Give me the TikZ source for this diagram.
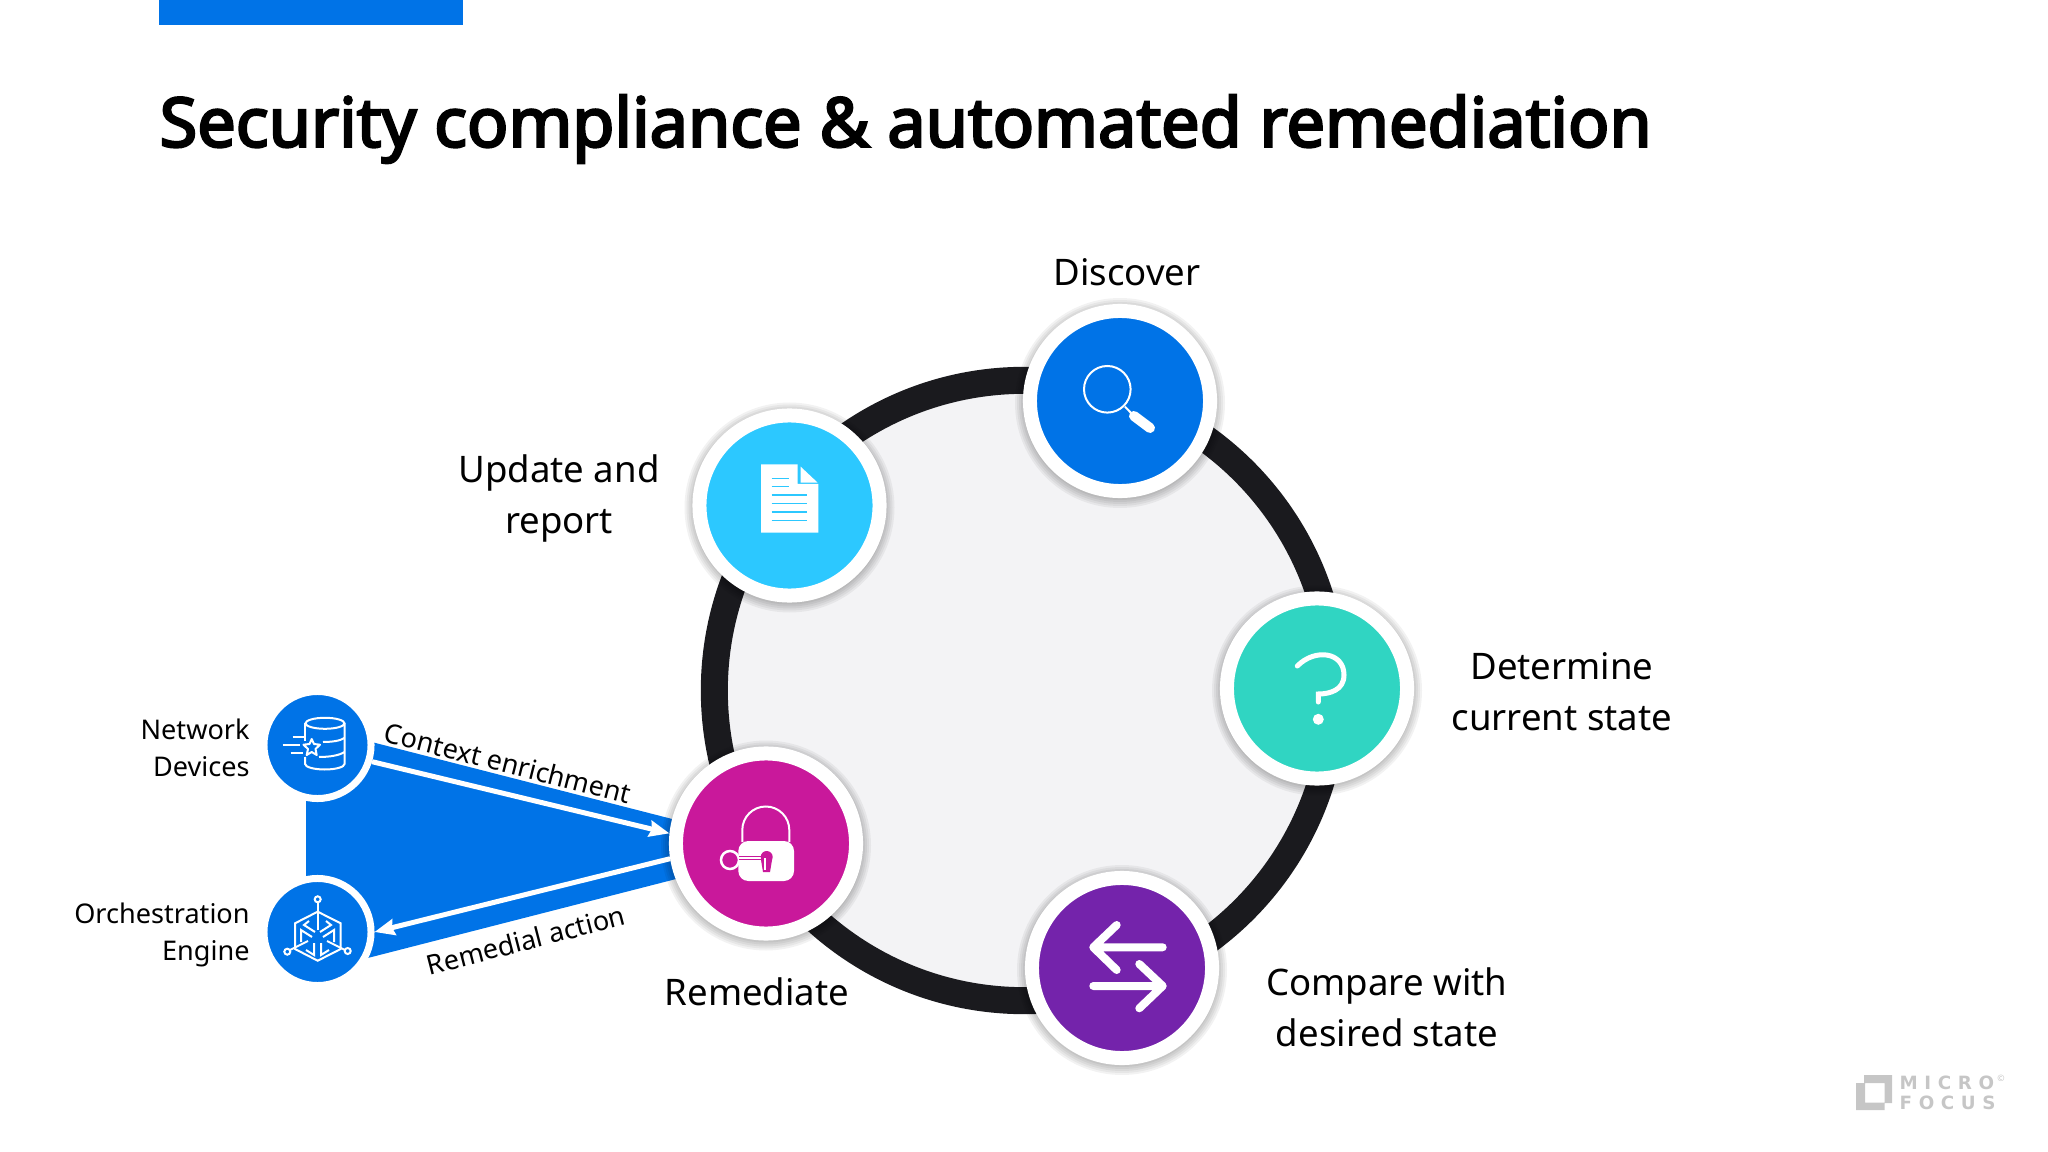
\documentclass[tikz,border=0pt]{standalone}
\usepackage{fontspec}
\setmainfont{Noto Sans}
\newfontfamily\logofont{DejaVu Sans}
\usepackage{tikz}
\usetikzlibrary{arrows.meta}
\definecolor{msblue}{HTML}{0073E7}
\definecolor{msaqua}{HTML}{2CC8FF}
\definecolor{msteal}{HTML}{30D5C2}
\definecolor{mspurple}{HTML}{7423AB}
\definecolor{msmagenta}{HTML}{C9189B}
\definecolor{msblack}{HTML}{1A1A1E}
\definecolor{mspale}{HTML}{F3F3F5}
\definecolor{mslogo}{HTML}{C6C6C6}
\tikzset{
  stagecirc/.style={circle,draw=white,line width=0.14cm,minimum size=1.80cm,inner sep=0pt},
  sourcecirc/.style={circle,draw=white,line width=0.07cm,minimum size=1.07cm,inner sep=0pt,fill=msblue},
  stagetext/.style={align=center,font=\fontsize{10.4}{14.5}\selectfont},
  sourcetext/.style={align=right,anchor=east,font=\fontsize{7.7}{10.5}\selectfont},
  flowtext/.style={font=\fontsize{7.7}{10}\selectfont},
  flowarrow/.style={white,line width=0.05cm,-{Stealth[length=0.2cm,width=0.16cm,inset=0.02cm]}},
  iconline/.style={white,line width=0.02cm},
  logotext/.style={mslogo,font=\logofont\fontsize{5.2}{5}\selectfont\bfseries\addfontfeature{LetterSpace=36}}
}
\begin{document}
\begin{tikzpicture}[x=0.01cm,y=-0.01cm]
\useasboundingbox (0,0) rectangle (2048,1152);
\fill [msblue] (159,0) rectangle (463,25);
\node (title) [anchor=west,inner sep=0pt,font=\fontsize{19.45}{24}\selectfont\addfontfeature{FakeBold=3.5}] at (159,129) {Security compliance \& automated remediation};
% wedge behind the two small circles
\fill [msblue] (306,745) -- (317,728) -- (680,821) -- (680,878) -- (317,971) -- (306,932) -- cycle;
% big loop
\node (loop) [circle,fill=mspale,draw=msblack,line width=0.27cm,minimum size=6.20cm,inner sep=0pt] at (1024.5,690.5) {};
% soft shadows under the stages
\foreach \cx/\cy in {1120/401,789.5/505.5,766/843.5,1122/968,1317/688.5}{
  \foreach \r in {97,99,101,103,105}
    \fill [black,opacity=0.05] (\cx,\cy+2) circle [radius=\r];
}
\node (discover) [stagecirc,fill=msblue] at (1120,401) {};
\node (update) [stagecirc,fill=msaqua] at (789.5,505.5) {};
\node (remediate) [stagecirc,fill=msmagenta] at (766,843.5) {};
\node (compare) [stagecirc,fill=mspurple] at (1122,968) {};
\node (determine) [stagecirc,fill=msteal] at (1317,688.5) {};
\node (netdev) [sourcecirc] at (317.5,745) {};
\node (orch) [sourcecirc] at (317.5,932) {};
\draw [flowarrow] (netdev.-17) -- (remediate.174.5);
\draw [flowarrow] (remediate.189.5) -- (orch.0);
% labels
\node (discoverlbl) [stagetext] at (1127,272) {Discover};
\node (updatelbl) [stagetext] at (559,498) {Update and\\report};
\node (determinelbl) [stagetext] at (1562,692) {Determine\\current state};
\node (comparelbl) [stagetext] at (1387,1007) {Compare with\\desired state};
\node (remediatelbl) [stagetext] at (757,992) {Remediate};
\node (netdevlbl) [sourcetext] at (262,748) {Network\\Devices};
\node (orchlbl) [sourcetext] at (262,935) {Orchestration\\Engine};
\node (contextlbl) [flowtext,rotate=-14.3] at (508,763) {Context enrichment};
\node (actionlbl) [flowtext,rotate=14.5] at (526,940) {Remedial action};
% magnifier
\draw [iconline] (1107.3,389.3) circle [radius=23.3];
\draw [iconline] (1125,406.7) -- (1133,415);
\draw [white,line width=0.1cm,line cap=round] (1134,416) -- (1150,428);
% document
\fill [white] (761,464.3) -- (797.7,464.3) -- (797.7,484) -- (818.3,484) -- (818.3,532.7) -- (761,532.7) -- cycle;
\fill [white] (800.7,466.7) -- (817.7,482.7) -- (800.7,482.7) -- cycle;
\draw [msaqua,line width=0.015cm] (771.7,478.3) -- (789.3,478.3);
\draw [msaqua,line width=0.015cm] (771.7,486.7) -- (789.3,486.7);
\foreach \y in {495,503.7,512,520.3}
  \draw [msaqua,line width=0.015cm] (771.7,\y) -- (806.7,\y);
% lock with key
\draw [iconline] (742.3,842) -- (742.3,830) arc [start angle=180,end angle=0,x radius=23.5,y radius=-23.5] -- (789.3,842);
\fill [white,rounded corners=0.1cm] (738.3,841) -- (794,841) -- (794,881) -- (738.3,881) -- cycle;
\draw [white,line width=0.025cm] (730,860) circle [radius=9];
\draw [msmagenta,line width=0.045cm] (739,858) -- (765,858);
\draw [white,line width=0.025cm] (738,858) -- (766,858);
\fill [msmagenta] (766.7,857) circle [radius=6];
\fill [msmagenta] (761,860) -- (772,860) -- (770,872) -- (763,872) -- cycle;
\draw [iconline] (765,858) -- (765,870);
% question mark
\draw [white,line width=0.05cm,line cap=round] (1297.3,666) .. controls (1315,648) and (1344,652) .. (1344,675) .. controls (1344,690) and (1330,694) .. (1318.3,694) -- (1318.3,702);
\fill [white] (1318.3,719.3) circle [radius=5.5];
% two arrows
\draw [white,line width=0.08cm,line cap=round,line join=round] (1162.7,947.3) -- (1093.3,947.3) (1116.7,925) -- (1093.3,947.3) -- (1116.7,970);
\draw [white,line width=0.08cm,line cap=round,line join=round] (1093.3,986) -- (1162.7,986) (1139.3,964) -- (1162.7,986) -- (1139.3,1008.3);
% database
\draw [iconline] (325,723.3) ellipse [x radius=19.5,y radius=5.5];
\draw [iconline] (305,723.3) -- (305,741);
\draw [iconline] (344.5,723.3) -- (344.5,764) arc [start angle=0,end angle=180,x radius=19.7,y radius=5.5] -- (305,757);
\draw [iconline] (323,742) .. controls (331,742) and (340,741) .. (344.5,738);
\draw [iconline] (319,757) .. controls (331,757) and (340,755) .. (344.5,752);
\draw [iconline] (282.7,745) -- (300,745) (292.7,736.7) -- (305,736.7) (290.7,752.7) -- (303,752.7);
\draw [iconline,line join=round] (311.7,739) -- (314,744) -- (320,744.7) -- (315.5,749) -- (316.7,755) -- (311.7,752) -- (306.7,755) -- (308,749) -- (303.5,744.7) -- (309.5,744) -- cycle;
% cube
\draw [iconline] (317.7,911.7) -- (340.7,923.3) -- (340.7,949) -- (317.7,960.7) -- (295,949) -- (295,923.3) -- cycle;
\draw [iconline] (317.7,902.3) -- (317.7,930);
\draw [iconline] (290,950) -- (308,941) (345,950) -- (327,941);
\draw [iconline] (317.7,899.3) circle [radius=3];
\draw [iconline] (287.3,951.7) circle [radius=3];
\draw [iconline] (347.7,951) circle [radius=3];
\draw [iconline] (309,921) -- (304,925) -- (315,932) (326,921) -- (331,925) -- (320,932);
\draw [iconline] (301,942) -- (301,930) -- (312,937) (334,942) -- (334,930) -- (323,937);
\draw [iconline] (306,950) -- (314,955) -- (314,943) (329,950) -- (321,955) -- (321,943);
% logo
\fill [mslogo,even odd rule] (1864,1075) -- (1892,1075) -- (1892,1103) -- (1884.5,1103) -- (1884.5,1110) -- (1856,1110) -- (1856,1083) -- (1864,1083) -- cycle (1865,1083) -- (1884.5,1083) -- (1884.5,1102.5) -- (1865,1102.5) -- cycle;
\node (logotop) [logotext,anchor=west,inner sep=0pt] at (1899,1083) {MICRO};
\node (logobot) [logotext,anchor=west,inner sep=0pt] at (1899,1103) {FOCUS};
\node (logomark) [mslogo,inner sep=0pt,font=\fontsize{2.5}{3}\selectfont] at (2001,1078) {©};
\end{tikzpicture}
\end{document}
